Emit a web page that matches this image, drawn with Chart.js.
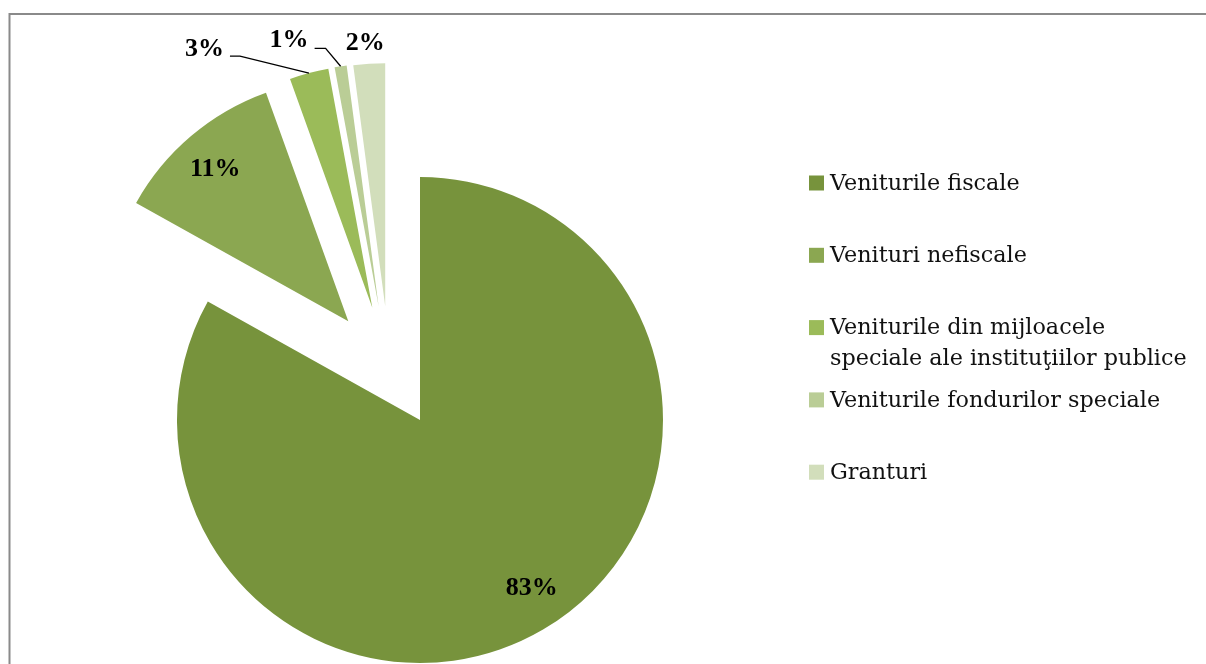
<!DOCTYPE html>
<html><head><meta charset="utf-8">
<script src="https://cdn.jsdelivr.net/npm/chart.js@4/dist/chart.umd.min.js"></script>
<style>html,body{margin:0;padding:0;background:#fff;overflow:hidden}#wrap{width:1206px;height:664px;position:relative}</style>
</head><body><div id="wrap"><canvas id="c" width="1206" height="664"></canvas></div>
<script>
// ---- data ----
const categories = [
  'Veniturile fiscale',
  'Venituri nefiscale',
  ['Veniturile din mijloacele', 'speciale ale instituţiilor publice'],
  'Veniturile fondurilor speciale',
  'Granturi'
];
const values = [83.1, 11.4, 2.6, 0.8, 2.1];
const colors = ['#77933C', '#8BA751', '#9BBB59', '#BACD96', '#D2DEBB'];

// ---- styling / layout ----
const explodeDist = [0, 122, 122, 121, 119];
const explodeAngle = [0, 324, 337, 340, 343]; // degrees clockwise from 12 o'clock
const labelStyle = [
  {mode: 'in', f: 0.81, dx: 12, dy: -1},
  {mode: 'in', f: 0.84, dx: -1, dy: 4},
  {mode: 'leader', ex: -69, ey: -17, len: 10, ty: -7},
  {mode: 'leader', ex: -15, ey: -18, len: 11, ty: -8},
  {mode: 'out', dx: -4, dy: -20}
];
const labelFont = 'bold 26px "Liberation Serif", "Times New Roman", serif';
const legendFont = '22.3px "DejaVu Serif", serif';

const explodePlugin = {
  id: 'explode',
  afterDatasetsUpdate(chart) {
    const ca = chart.chartArea;
    const cx = (ca.left + ca.right) / 2, cy = (ca.top + ca.bottom) / 2;
    chart.getDatasetMeta(0).data.forEach((arc, i) => {
      const a = explodeAngle[i] * Math.PI / 180;
      arc.x = cx + explodeDist[i] * Math.sin(a);
      arc.y = cy - explodeDist[i] * Math.cos(a);
    });
  }
};

const framePlugin = {
  id: 'frame',
  beforeDraw(chart) {
    const ctx = chart.ctx;
    ctx.save();
    ctx.fillStyle = '#fff';
    ctx.fillRect(0, 0, chart.width, chart.height);
    ctx.strokeStyle = '#8a8a8a';
    ctx.lineWidth = 2;
    ctx.beginPath();
    ctx.moveTo(9.5, chart.height);
    ctx.lineTo(9.5, 14);
    ctx.lineTo(chart.width, 14);
    ctx.stroke();
    ctx.restore();
  }
};

const labelPlugin = {
  id: 'pctLabels',
  afterDatasetsDraw(chart) {
    const ctx = chart.ctx;
    const meta = chart.getDatasetMeta(0);
    ctx.save();
    ctx.font = labelFont;
    ctx.fillStyle = '#000';
    ctx.strokeStyle = '#000';
    ctx.lineWidth = 1.3;
    meta.data.forEach((arc, i) => {
      const txt = Math.round(values[i]) + '%';
      const mid = (arc.startAngle + arc.endAngle) / 2;
      const R = arc.outerRadius;
      const s = labelStyle[i];
      if (s.mode === 'in') {
        ctx.textAlign = 'center';
        ctx.textBaseline = 'middle';
        ctx.fillText(txt, arc.x + Math.cos(mid) * R * s.f + s.dx, arc.y + Math.sin(mid) * R * s.f + s.dy);
      } else {
        const px = arc.x + Math.cos(mid) * R, py = arc.y + Math.sin(mid) * R;
        if (s.mode === 'leader') {
          const ex = px + s.ex, ey = py + s.ey;
          ctx.beginPath();
          ctx.moveTo(px, py);
          ctx.lineTo(ex, ey);
          ctx.lineTo(ex - s.len, ey);
          ctx.stroke();
          ctx.textAlign = 'right';
          ctx.textBaseline = 'middle';
          ctx.fillText(txt, ex - s.len - 6, ey + s.ty);
        } else {
          ctx.textAlign = 'center';
          ctx.textBaseline = 'middle';
          ctx.fillText(txt, px + s.dx, py + s.dy);
        }
      }
    });
    ctx.restore();
  }
};

const legendPlugin = {
  id: 'sideLegend',
  afterDraw(chart) {
    const ctx = chart.ctx;
    ctx.save();
    ctx.font = legendFont;
    ctx.textAlign = 'left';
    ctx.textBaseline = 'middle';
    const top = 183, step = 72.3, box = 15, bx = 809, tx = 830, lh = 31;
    chart.data.labels.forEach((lab, i) => {
      const y = top + i * step;
      ctx.fillStyle = colors[i];
      ctx.fillRect(bx, y - box / 2, box, box);
      ctx.fillStyle = '#111';
      const lines = Array.isArray(lab) ? lab : [lab];
      lines.forEach((ln, j) => ctx.fillText(ln, tx, y + 1 + j * lh));
    });
    ctx.restore();
  }
};

new Chart(document.getElementById('c'), {
  type: 'pie',
  data: {
    labels: categories,
    datasets: [{
      data: values,
      backgroundColor: colors,
      borderWidth: 0,
      radius: 243,
      clip: false
    }]
  },
  options: {
    responsive: false,
    animation: false,
    events: [],
    layout: {padding: {left: 0, right: 366, top: 176, bottom: 0}},
    plugins: {legend: {display: false}, tooltip: {enabled: false}}
  },
  plugins: [framePlugin, explodePlugin, labelPlugin, legendPlugin]
});
</script>
</body></html>
